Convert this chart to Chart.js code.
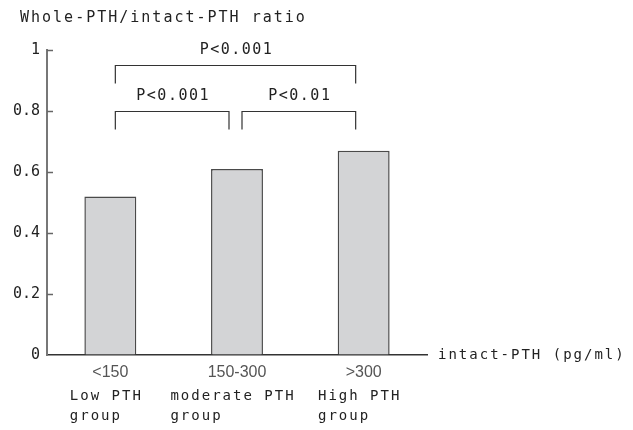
<!DOCTYPE html>
<html>
<head>
<meta charset="utf-8">
<script src="https://cdn.jsdelivr.net/npm/chart.js@4"></script>
<style>
html,body{margin:0;padding:0;background:#fff;}
canvas{display:block;}
</style>
</head>
<body>
<canvas id="c" width="633" height="430"></canvas>
<script>
// ---- data ----
const categories = ['<150', '150-300', '>300'];
const groupNames = [['Low PTH', 'group'], ['moderate PTH', 'group'], ['High PTH', 'group']];
const ratioValues = [0.52, 0.61, 0.67];
const yTickValues = [0, 0.2, 0.4, 0.6, 0.8, 1];
const chartTitle = 'Whole-PTH/intact-PTH ratio';
const xAxisTitle = 'intact-PTH (pg/ml)';
const bracketFrom = [0, 0, 1];
const bracketTo = [2, 1, 2];
const bracketLevel = [0.95, 0.80, 0.80];
const bracketLabels = ['P<0.001', 'P<0.001', 'P<0.01'];

const MONO = '"DejaVu Sans Mono", monospace';
const TEXT = '#222';

const extras = {
  id: 'extras',
  afterDraw(chart) {
    const ctx = chart.ctx;
    const xs = chart.scales.x, ys = chart.scales.y;
    ctx.save();
    // inward y ticks
    ctx.strokeStyle = '#666';
    ctx.lineWidth = 1.5;
    yTickValues.forEach(v => {
      if (v === 0) return;
      const y = Math.round(ys.getPixelForValue(v)) + 0.5;
      ctx.beginPath();
      ctx.moveTo(xs.left, y);
      ctx.lineTo(xs.left + 6, y);
      ctx.stroke();
    });
    ctx.fillStyle = TEXT;
    ctx.textBaseline = 'middle';
    // title
    ctx.font = '15px ' + MONO;
    ctx.letterSpacing = '2px';
    ctx.textAlign = 'left';
    ctx.fillText(chartTitle, 20, 18);
    // x axis title
    ctx.font = '14px ' + MONO;
    ctx.letterSpacing = '2px';
    ctx.fillText(xAxisTitle, xs.right + 11, ys.getPixelForValue(0));
    // group names
    groupNames.forEach((lines, i) => {
      const cx = xs.getPixelForValue(i);
      const w = ctx.measureText(lines[0]).width - 2;
      const x0 = cx - w / 2 - 5;
      lines.forEach((ln, j) => {
        ctx.fillText(ln, x0, 396 + j * 20);
      });
    });
    // brackets
    ctx.strokeStyle = '#333';
    ctx.lineWidth = 1.2;
    ctx.textAlign = 'center';
    bracketLabels.forEach((lab, i) => {
      const x1 = xs.getPixelForValue(bracketFrom[i]) + 5;
      const x2 = xs.getPixelForValue(bracketTo[i]) - 8;
      const y = Math.round(ys.getPixelForValue(bracketLevel[i])) + 0.5;
      ctx.beginPath();
      ctx.moveTo(x1, y + 18);
      ctx.lineTo(x1, y);
      ctx.lineTo(x2, y);
      ctx.lineTo(x2, y + 18);
      ctx.stroke();
      ctx.font = '15px ' + MONO;
      ctx.letterSpacing = '1.5px';
      ctx.fillText(lab, (x1 + x2) / 2 + 1, y - 15);
    });
    ctx.restore();
  }
};

new Chart(document.getElementById('c'), {
  type: 'bar',
  data: {
    labels: categories,
    datasets: [{
      data: ratioValues,
      backgroundColor: '#d3d4d6',
      borderColor: '#4a4a4a',
      borderWidth: 1.5,
      barPercentage: 0.41,
      categoryPercentage: 1.0
    }]
  },
  options: {
    responsive: false,
    devicePixelRatio: 1,
    animation: false,
    layout: { padding: { top: 50, right: 206, left: 0, bottom: 0 } },
    plugins: { legend: { display: false }, tooltip: { enabled: false }, title: { display: false } },
    scales: {
      x: {
        grid: { display: true, drawOnChartArea: false, drawTicks: false },
        border: { display: true, color: '#333', width: 1.5 },
        ticks: {
          color: '#555',
          padding: 8,
          maxRotation: 0,
          font: { family: '"Liberation Sans", Arial, sans-serif', size: 16 }
        },
        afterFit(scale) { scale.height = 75; }
      },
      y: {
        min: 0, max: 1,
        afterBuildTicks(scale) { scale.ticks = yTickValues.map(v => ({ value: v })); },
        grid: { display: true, drawOnChartArea: false, drawTicks: false },
        border: { display: true, color: '#777', width: 2 },
        ticks: {
          color: TEXT,
          padding: 7,
          font: { family: MONO, size: 15 },
          callback: v => (v === 0 ? '0' : v === 1 ? '1' : v.toFixed(1))
        },
        afterFit(scale) { scale.width = 47; }
      }
    }
  },
  plugins: [extras]
});
</script>
</body>
</html>
